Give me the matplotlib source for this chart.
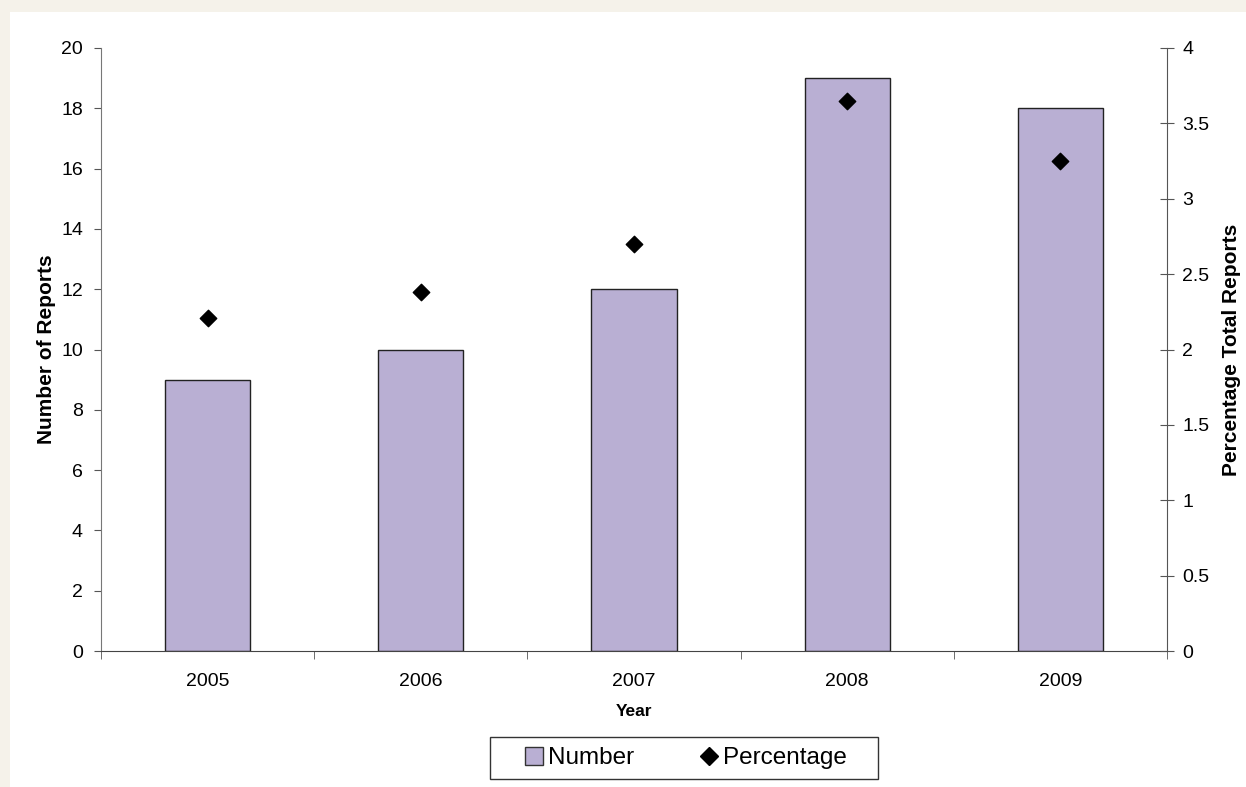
import matplotlib
matplotlib.use("Agg")
import matplotlib.pyplot as plt
from matplotlib.patches import Rectangle
from matplotlib.lines import Line2D
import numpy as np

years = ["2005", "2006", "2007", "2008", "2009"]
number_of_reports = [9, 10, 12, 19, 18]
percentage_total = [2.21, 2.38, 2.70, 3.65, 3.25]

plt.rcParams["font.family"] = ["Liberation Sans", "DejaVu Sans"]

W, H = 1246, 787
fig = plt.figure(figsize=(W / 100, H / 100), dpi=100)
fig.patch.set_facecolor("#F5F2EA")
# white chart area behind everything
fig.patches.append(Rectangle((10 / W, 0), 1 - 10 / W, 1 - 12 / H,
                             transform=fig.transFigure, facecolor="white",
                             edgecolor="none", zorder=-10))

ax = fig.add_axes([101 / W, 1 - 651 / H, (1167 - 101) / W, (651 - 48) / H])
ax.set_facecolor("none")
x = np.arange(len(years))
bar_color = "#B9AFD3"
ax.bar(x, number_of_reports, width=0.4, color=bar_color, edgecolor="#222222",
       linewidth=1.0, zorder=2)
ax.set_xlim(-0.5, len(years) - 0.5)
ax.set_ylim(0, 20)
ax.set_yticks(range(0, 21, 2))
ax.set_xticks(x)
ax.set_xticklabels(years)
ax.tick_params(axis="x", length=0, pad=16, labelsize=14)
ax.set_xticks(np.arange(-0.5, len(years)), minor=True)
ax.tick_params(axis="x", which="minor", length=6, direction="out", color="#555555")
ax.tick_params(axis="y", length=5, direction="out", pad=8, labelsize=14, color="#555555")
for s in ["top", "right"]:
    ax.spines[s].set_visible(False)
ax.spines["left"].set_color("#777777")
ax.spines["bottom"].set_color("#444444")
ax.set_ylabel("Number of Reports", fontsize=15, fontweight="bold", labelpad=4)
ax.set_xlabel("Year", fontsize=12.5, fontweight="bold", labelpad=10)

ax2 = ax.twinx()
ax2.scatter(x, percentage_total, marker="D", s=70, color="black", zorder=3)
ax2.set_ylim(0, 4)
ax2.set_yticks(np.arange(0, 4.01, 0.5))
ax2.set_yticklabels(["0", "0.5", "1", "1.5", "2", "2.5", "3", "3.5", "4"])
ax2.tick_params(axis="y", length=10, direction="inout", pad=6, labelsize=14, color="#555555")
for s in ["top", "left", "bottom"]:
    ax2.spines[s].set_visible(False)
ax2.spines["right"].set_color("#555555")
ax2.set_ylabel("Percentage Total Reports", fontsize=15, fontweight="bold", labelpad=9)

handles = [
    Rectangle((0, 0), 1, 1, facecolor=bar_color, edgecolor="#333333", linewidth=1),
    Line2D([], [], marker="D", linestyle="none", color="black", markersize=9),
]
leg = fig.legend(handles, ["Number", "Percentage"], loc="center",
                 bbox_to_anchor=(686 / W, 1 - 758 / H), ncol=2, fontsize=17.5,
                 frameon=False, handlelength=0.75, handleheight=0.75,
                 handletextpad=0.2, columnspacing=2.7, borderpad=0.0)
# legend box
fig.patches.append(Rectangle((490 / W, 1 - 779 / H), 388 / W, 42 / H,
                             transform=fig.transFigure, facecolor="white",
                             edgecolor="#333333", linewidth=1.0, zorder=-5))

fig.savefig("out.png", dpi=100, facecolor=fig.get_facecolor())
